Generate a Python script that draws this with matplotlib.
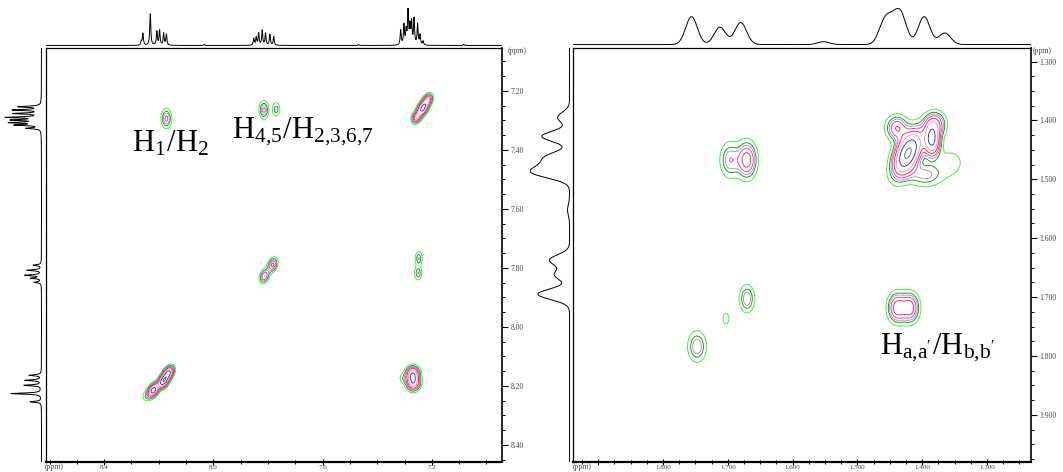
import numpy as np
import matplotlib.pyplot as plt
from matplotlib.ticker import MultipleLocator, FormatStrFormatter, FuncFormatter

plt.rcParams['font.family'] = ['Liberation Serif', 'DejaVu Serif']
plt.rcParams['mathtext.fontset'] = 'stix'

# ---------- aromatic COSY (left) ----------
# 1D projections: line position (ppm) and intensity
aro_top_ppm = [8.264, 8.258, 8.231, 8.207, 8.197, 8.182, 8.172, 8.033,
               7.852, 7.843, 7.834, 7.821, 7.809, 7.793, 7.779, 7.468,
               7.314, 7.302, 7.294, 7.287, 7.280, 7.274, 7.265, 7.252, 7.243, 7.232, 7.083]
aro_top_int = [4, 12, 32, 14, 15, 12, 11, 1.2,
               7, 8, 12, 15, 12, 11, 9, 1.0,
               15, 20, 14, 34, 18, 22, 26, 21, 10, 4, 1.2]
aro_side_ppm = [7.254, 7.265, 7.277, 7.290, 7.299, 7.308, 7.316, 7.327,
                7.791, 7.808, 7.825, 7.835, 7.849,
                8.164, 8.181, 8.198, 8.226, 8.254]
aro_side_int = [22, 27, 26, 33, 27, 29, 24, 14,
                8, 14, 16, 10, 7,
                12, 16, 17, 30, 11]

# 2D peaks: F2 (x), F1 (y), amplitude, widths (ppm), tilt
aro_pk_x = [8.172, 7.815, 7.770, 7.215, 7.233, 7.255, 7.783, 7.813, 7.248, 7.250,
            8.165, 8.183, 8.220, 8.246, 7.270, 7.268, 7.305]
aro_pk_y = [7.294, 7.265, 7.263, 7.231, 7.259, 7.289, 7.790, 7.828, 7.768, 7.818,
            8.157, 8.184, 8.215, 8.235, 8.160, 8.190, 8.175]
aro_pk_amp = [4.0, 4.0, 2.5, 7.0, 12.0, 7.0, 5.5, 5.0, 2.8, 2.8,
              12.0, 14.0, 13.0, 1.6, 10.0, 9.0, 1.5]
aro_pk_wx = [0.012, 0.011, 0.010, 0.011, 0.012, 0.011, 0.011, 0.011, 0.009, 0.009,
             0.012, 0.012, 0.012, 0.011, 0.015, 0.015, 0.011]
aro_pk_wy = [0.021, 0.019, 0.017, 0.013, 0.015, 0.013, 0.015, 0.015, 0.016, 0.016,
             0.014, 0.014, 0.014, 0.013, 0.016, 0.016, 0.013]
aro_pk_rho = [0.0, 0.0, 0.0, 0.3, 0.4, 0.3, 0.3, 0.3, 0.0, 0.0,
              0.4, 0.4, 0.4, 0.0, 0.0, 0.0, 0.0]

# ---------- aliphatic COSY (right) ----------
ali_top_ppm = [1.756, 1.712, 1.680, 1.552, 1.458, 1.446, 1.433, 1.397, 1.365]
ali_top_int = [29, 18, 23, 3, 22, 15, 30, 29, 12]
ali_side_ppm = [1.395, 1.427, 1.462, 1.478, 1.490, 1.552, 1.637, 1.662, 1.695]
ali_side_int = [12, 28, 22, 18, 30, 2, 20, 15, 32]

ali_pk_x = [1.6966, 1.6704, 1.4219, 1.3849, 1.4389, 1.3802, 1.3957, 1.3560,
            1.4389, 1.4188, 1.6704, 1.7028, 1.7475]
ali_pk_y = [1.4671, 1.4671, 1.4553, 1.4332, 1.4129, 1.4061, 1.4925, 1.4720,
            1.7180, 1.7180, 1.7027, 1.7366, 1.7840]
ali_pk_amp = [3.5, 6.0, 16.0, 11.5, 5.0, 5.0, 3.0, 1.6,
              6.0, 6.0, 3.5, 1.4, 3.5]
ali_pk_wx = [0.0100, 0.0095, 0.0139, 0.0077, 0.0108, 0.0108, 0.0185, 0.0150,
             0.0090, 0.0090, 0.0077, 0.0055, 0.0093]
ali_pk_wy = [0.0195, 0.0195, 0.0237, 0.0170, 0.0136, 0.0136, 0.0136, 0.0170,
             0.0160, 0.0160, 0.0153, 0.0110, 0.0170]
ali_pk_rho = [0.0, 0.0, 0.5, 0.0, 0.0, 0.0, 0.0, 0.0,
              0.0, 0.0, 0.0, 0.0, 0.0]

contour_levels = [1.0, 2.0, 2.7, 3.6, 5.0, 7.0, 10.5, 15.0]
contour_colors = ['#2ee82e', '#0f8a0f', '#9a9a9a', '#f020f0',
                  '#f02020', '#ff8fa0', '#2020e8', '#555555']

W, H = 1063, 472


def rect(x0, y0, x1, y1):
    return [x0 / W, 1 - y1 / H, (x1 - x0) / W, (y1 - y0) / H]


def lorentz(ax_ppm, centers, heights, hw):
    out = np.zeros_like(ax_ppm)
    for c, h in zip(centers, heights):
        out += h / (1 + ((ax_ppm - c) / hw) ** 2)
    return out


def gauss(ax_ppm, centers, heights, sd):
    out = np.zeros_like(ax_ppm)
    for c, h in zip(centers, heights):
        out += h * np.exp(-0.5 * ((ax_ppm - c) / sd) ** 2)
    return out


def peaks2d(X, Y, px, py, amp, wx, wy, rho):
    Z = np.zeros_like(X)
    for x0, y0, a, sx, sy, r in zip(px, py, amp, wx, wy, rho):
        dx = (X - x0) / sx
        dy = (Y - y0) / sy
        q = (dx ** 2 - 2 * r * dx * dy + dy ** 2) / (1 - r ** 2)
        Z += a * np.exp(-0.5 * q)
    return Z


def style_main(ax, xlim, ylim, xmaj, xmin, ymaj, ymin, fmt):
    ax.set_xlim(*xlim)
    ax.set_ylim(*ylim)
    ax.xaxis.set_major_locator(MultipleLocator(xmaj))
    ax.xaxis.set_minor_locator(MultipleLocator(xmin))
    ax.yaxis.set_major_locator(MultipleLocator(ymaj))
    ax.yaxis.set_minor_locator(MultipleLocator(ymin))
    ax.xaxis.set_major_formatter(fmt[0])
    ax.yaxis.set_major_formatter(fmt[1])
    ax.yaxis.tick_right()
    ax.tick_params(axis='x', which='major', direction='inout', length=5, width=0.8,
                   labelsize=5, labelcolor='#444444', pad=0)
    ax.tick_params(axis='x', which='minor', direction='inout', length=3.5, width=0.7)
    ax.tick_params(axis='y', which='major', direction='out', length=4, width=0.8,
                   labelsize=5.5, labelcolor='#444444', pad=2)
    ax.tick_params(axis='y', which='minor', direction='out', length=2.5, width=0.7)
    for s in ['top', 'left']:
        ax.spines[s].set_linewidth(0.9)
    ax.spines['bottom'].set_linewidth(1.6)
    ax.spines['right'].set_linewidth(1.2)


fig = plt.figure(figsize=(W / 100, H / 100), dpi=100)

# ---- left panel ----
ax1 = fig.add_axes(rect(46, 48, 502, 462))
x1 = np.linspace(6.943, 8.613, 400)
y1 = np.linspace(7.055, 8.458, 400)
X1, Y1 = np.meshgrid(x1, y1)
Z1 = peaks2d(X1, Y1, aro_pk_x, aro_pk_y, aro_pk_amp, aro_pk_wx, aro_pk_wy, aro_pk_rho)
ax1.contour(X1, Y1, Z1, levels=contour_levels, colors=contour_colors, linewidths=0.6)
style_main(ax1, (8.613, 6.943), (8.458, 7.055), 0.4, 0.1, 0.2, 0.05,
           (FormatStrFormatter('%.1f'), FormatStrFormatter('%.2f')))
ax1.text(8.297, 7.408, r'H$_{\mathregular{1}}$/H$_{\mathregular{2}}$',
         fontsize=22, va='baseline', ha='left')
ax1.text(7.930, 7.357, r'H$_{\mathregular{4{,}5}}$/H$_{\mathregular{2{,}3{,}6{,}7}}$',
         fontsize=22, va='baseline', ha='left')

top1 = fig.add_axes(rect(46, 8, 502, 47))
f2 = np.linspace(6.943, 8.613, 5000)
top1.plot(f2, lorentz(f2, aro_top_ppm, aro_top_int, 0.0022), color='black', lw=0.7)
top1.set_xlim(8.613, 6.943)
top1.set_ylim(-1.5, 38)
top1.set_axis_off()

side1 = fig.add_axes(rect(0, 48, 43, 462))
f1 = np.linspace(7.055, 8.458, 5000)
side1.plot(lorentz(f1, aro_side_ppm, aro_side_int, 0.0022), f1, color='black', lw=0.7)
side1.set_ylim(8.458, 7.055)
side1.set_xlim(41, -1.5)
side1.set_axis_off()

# ---- right panel ----
ax2 = fig.add_axes(rect(573, 48, 1031, 462))
x2 = np.linspace(1.232, 1.939, 400)
y2 = np.linspace(1.277, 1.980, 400)
X2, Y2 = np.meshgrid(x2, y2)
Z2 = peaks2d(X2, Y2, ali_pk_x, ali_pk_y, ali_pk_amp, ali_pk_wx, ali_pk_wy, ali_pk_rho)
ax2.contour(X2, Y2, Z2, levels=contour_levels, colors=contour_colors, linewidths=0.6)
# the 1.900 tick on F2 sits under the unit label, so it carries no number
f2_fmt = FuncFormatter(lambda v, pos: '' if v > 1.85 else '%.3f' % v)
style_main(ax2, (1.939, 1.232), (1.980, 1.277), 0.1, 0.025, 0.1, 0.025,
           (f2_fmt, FormatStrFormatter('%.3f')))
ax2.text(1.465, 1.796, r"H$_{\mathregular{a{,}a'}}$/H$_{\mathregular{b{,}b'}}$",
         fontsize=22, va='baseline', ha='left')

top2 = fig.add_axes(rect(573, 8, 1031, 46))
g2 = np.linspace(1.232, 1.939, 3000)
top2.plot(g2, gauss(g2, ali_top_ppm, ali_top_int, 0.009), color='black', lw=0.7)
top2.set_xlim(1.939, 1.232)
top2.set_ylim(-1.5, 38)
top2.set_axis_off()

side2 = fig.add_axes(rect(530, 48, 571, 462))
g1 = np.linspace(1.277, 1.980, 3000)
side2.plot(gauss(g1, ali_side_ppm, ali_side_int, 0.009), g1, color='black', lw=0.7)
side2.set_ylim(1.980, 1.277)
side2.set_xlim(40, -1.5)
side2.set_axis_off()

# unit labels
for xp, yp in [(45, 469), (573, 469)]:
    fig.text(xp / W, 1 - yp / H, '(ppm)', fontsize=5.5, color='#444444', ha='left', va='baseline')
for xp, yp in [(508, 53), (1033, 53)]:
    fig.text(xp / W, 1 - yp / H, '(ppm)', fontsize=5.5, color='#444444', ha='left', va='baseline')

fig.savefig('out.png', dpi=100)
